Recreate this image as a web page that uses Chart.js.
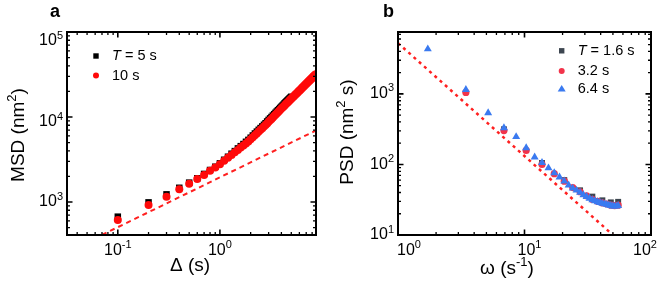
<!DOCTYPE html>
<html><head><meta charset="utf-8">
<script src="https://cdn.jsdelivr.net/npm/chart.js@4/dist/chart.umd.min.js"></script>
<style>
html,body{margin:0;padding:0;background:#fff;}
#wrap{position:relative;width:665px;height:283px;overflow:hidden;}
#ca{position:absolute;left:0;top:0;}
#cb{position:absolute;left:332px;top:0;}
</style></head><body>
<div id="wrap"><canvas id="ca" width="332" height="283"></canvas><canvas id="cb" width="333" height="283"></canvas></div>
<script>
// ---------------- Panel a data ----------------
const lagT5 = [0.1,0.2,0.3,0.4,0.5,0.6,0.7,0.8,0.9,1.0,1.1,1.2,1.3,1.4,1.5,1.6,1.7,1.8,1.9,2.0,2.1,2.2,2.3,2.4,2.5,2.6,2.7,2.8,2.9,3.0,3.1,3.2,3.3,3.4,3.5,3.6,3.7,3.8,3.9,4.0,4.1,4.2,4.3,4.4,4.5,4.6,4.7,4.8,4.9,5.0];
const msdT5 = [672,990,1230,1470,1690,1900,2140,2380,2600,2850,3140,3410,3700,3970,4270,4540,4810,5110,5380,5710,6060,6400,6730,7070,7410,7750,8100,8440,8860,9250,9630,10000,10400,10800,11200,11600,12000,12400,12800,13200,13600,14000,14500,14900,15300,15700,16100,16500,16900,17300];
const lagT10 = [0.1,0.2,0.3,0.4,0.5,0.6,0.7,0.8,0.9,1.0,1.1,1.2,1.3,1.4,1.5,1.6,1.7,1.8,1.9,2.0,2.1,2.2,2.3,2.4,2.5,2.6,2.7,2.8,2.9,3.0,3.1,3.2,3.3,3.4,3.5,3.6,3.7,3.8,3.9,4.0,4.1,4.2,4.3,4.4,4.5,4.6,4.7,4.8,4.9,5.0,5.1,5.2,5.3,5.4,5.5,5.6,5.7,5.8,5.9,6.0,6.1,6.2,6.3,6.4,6.5,6.6,6.7,6.8,6.9,7.0,7.1,7.2,7.3,7.4,7.5,7.6,7.7,7.8,7.9,8.0,8.1,8.2,8.3,8.4,8.5,8.6,8.7];
const msdT10 = [614,922,1150,1410,1640,1860,2080,2330,2550,2780,3050,3310,3580,3840,4100,4370,4630,4890,5150,5460,5780,6090,6410,6740,7060,7380,7710,8040,8400,8770,9130,9500,9870,10250,10630,11010,11390,11780,12170,12560,12940,13320,13700,14080,14470,14850,15240,15630,16020,16410,16810,17200,17600,18000,18400,18810,19210,19610,20020,20430,20840,21250,21660,22070,22490,22900,23320,23740,24160,24580,25000,25420,25850,26270,26700,27130,27560,27990,28420,28850,29280,29720,30150,30590,31030,31470,31900];
const fitA_lag = [0.07, 8.7];
const fitA_msd = [410, 6930];
const lagTickExps = [-1, 0];
const msdTickExps = [3, 4, 5];

// ---------------- Panel b data ----------------
const omegaT16 = [6.88,13.75,20.63,27.5,34.38,41.25,48.13,55.0];
const psdT16 = [315,105,60,43,35,31,29,29.5];
const omegaT32 = [3.44,6.88,10.31,13.75,17.19,20.63,24.06,27.5,30.94,34.38,37.81,41.25,44.69,48.13,51.56,55.0];
const psdT32 = [1050,302,158,100,74,58,47,41,36,32,30,28.5,27.5,26.5,26,26.5];
const omegaT64 = [1.72,3.44,5.16,6.88,8.59,10.31,12.03,13.75,15.47,17.19,18.91,20.63,22.34,24.06,25.78,27.5,29.22,30.94,32.66,34.38,36.09,37.81,39.53,41.25,42.97,44.69,46.41,48.13,49.84,51.56,53.28,55.0];
const psdT64 = [4330,1150,538,330,247,172,127,106,89,76,66,58,51,46,43,40,37,35,33,31.5,30.5,29.5,28.8,28,27.5,27,26.5,26,25.7,25.5,25.5,26];
const fitB_omega = [1, 50];
const fitB_psd = [5250, 10];
const omegaTickExps = [0, 1, 2];
const psdTickExps = [1, 2, 3];

// ---------------- helpers ----------------
const FAM = '"Liberation Sans", Arial, Helvetica, sans-serif';
function pts(xs, ys){ return xs.map((x,i)=>({x:x, y:ys[i]})); }
function fnt(s, F){ const size = s.sup ? Math.round(F*0.66) : F; return (s.it?'italic ':'') + (s.b?'bold ':'') + size + 'px ' + FAM; }
function segW(ctx, segs, F){ let w=0; for(const s of segs){ ctx.font=fnt(s,F); w+=ctx.measureText(s.t).width; } return w; }
function drawSegs(ctx, segs, x, y, F, align){
  const w = segW(ctx, segs, F);
  let cx = align==='center' ? x-w/2 : (align==='right' ? x-w : x);
  ctx.textBaseline='middle'; ctx.textAlign='left';
  for(const s of segs){ ctx.font=fnt(s,F); ctx.fillText(s.t, cx, s.sup ? y-F*0.34 : y); cx += ctx.measureText(s.t).width; }
}
function drawRot(ctx, segs, x, y, F){ ctx.save(); ctx.translate(x,y); ctx.rotate(-Math.PI/2); drawSegs(ctx, segs, 0, 0, F, 'center'); ctx.restore(); }
function logTicks(min, max){
  const major=[], minor=[];
  for(let e=Math.floor(Math.log10(min)); e<=Math.ceil(Math.log10(max)); e++){
    for(let k=1;k<10;k++){ const v=k*Math.pow(10,e); if(v<min*0.9999||v>max*1.0001) continue; (k===1?major:minor).push(v); }
  }
  return {major, minor};
}
function drawFrame(chart, cfg){
  const ctx=chart.ctx, a=chart.chartArea, xs=chart.scales.x, ys=chart.scales.y;
  ctx.save();
  ctx.strokeStyle='#000'; ctx.fillStyle='#000';
  const xt=logTicks(xs.min, xs.max), yt=logTicks(ys.min, ys.max);
  const tick=(v,len,lw,isX)=>{
    ctx.lineWidth=lw; ctx.beginPath();
    if(isX){ const p=xs.getPixelForValue(v); ctx.moveTo(p,a.bottom); ctx.lineTo(p,a.bottom-len); ctx.moveTo(p,a.top); ctx.lineTo(p,a.top+len); }
    else { const p=ys.getPixelForValue(v); ctx.moveTo(a.left,p); ctx.lineTo(a.left+len,p); ctx.moveTo(a.right,p); ctx.lineTo(a.right-len,p); }
    ctx.stroke();
  };
  xt.minor.forEach(v=>tick(v,3,1.3,true)); xt.major.forEach(v=>tick(v,5.5,1.6,true));
  yt.minor.forEach(v=>tick(v,3,1.3,false)); yt.major.forEach(v=>tick(v,5.5,1.6,false));
  ctx.lineWidth=2; ctx.strokeRect(a.left, a.top, a.right-a.left, a.bottom-a.top);
  // tick labels
  const F=16;
  cfg.xExps.forEach((e,i)=>{ const p=xs.getPixelForValue(Math.pow(10,e)) + (cfg.xShift?cfg.xShift[i]:0);
    drawSegs(ctx,[{t:'10'},{t:String(e),sup:true}], p, a.bottom+15.5, F, 'center'); });
  cfg.yExps.forEach((e,i)=>{ const p=ys.getPixelForValue(Math.pow(10,e)) + (cfg.yShift?cfg.yShift[i]:0);
    drawSegs(ctx,[{t:'10'},{t:String(e),sup:true}], a.left-4, p, F, 'right'); });
  // axis titles
  drawRot(ctx, cfg.yTitle, cfg.yTitlePos[0], cfg.yTitlePos[1], 19);
  drawSegs(ctx, cfg.xTitle, cfg.xTitlePos[0], cfg.xTitlePos[1], 19, 'center');
  // panel letter
  ctx.font='bold 18px '+FAM; ctx.textBaseline='alphabetic'; ctx.textAlign='left';
  ctx.fillText(cfg.letter, cfg.letterPos[0], cfg.letterPos[1]);
  // legend
  cfg.legend.forEach(it=>{
    ctx.fillStyle=it.color;
    const [mx,my]=it.pos;
    ctx.beginPath();
    if(it.shape==='rect'){ ctx.rect(mx-2.7,my-2.7,5.4,5.4); }
    else if(it.shape==='circle'){ ctx.arc(mx,my,3,0,Math.PI*2); }
    else { ctx.moveTo(mx,my-3.6); ctx.lineTo(mx+4,my+3); ctx.lineTo(mx-4,my+3); ctx.closePath(); }
    ctx.fill();
    ctx.fillStyle='#000';
    drawSegs(ctx, it.text, mx+16, my, 14.5, 'left');
  });
  ctx.restore();
}
const framePlugin = { id:'frame', afterDraw(chart){ drawFrame(chart, chart.options.plugins.frame); } };

function baseOpts(pad, x, y, frameCfg){
  return {
    responsive:false, animation:false, events:[],
    layout:{padding:pad},
    plugins:{legend:{display:false}, tooltip:{enabled:false}, frame:frameCfg},
    scales:{
      x:{type:'logarithmic', min:x[0], max:x[1], display:false},
      y:{type:'logarithmic', min:y[0], max:y[1], display:false}
    }
  };
}

// ---------------- Chart a ----------------
new Chart(document.getElementById('ca'), {
  type:'scatter',
  data:{datasets:[
    {label:'fit', data:pts(fitA_lag, fitA_msd), showLine:true, borderColor:'#ff2020', borderWidth:2, borderDash:[5,4], pointRadius:0, clip:0, order:0},
    {label:'10 s', data:pts(lagT10, msdT10), pointStyle:'circle', pointRadius:4, backgroundColor:'#ff0a0a', borderWidth:0, clip:0, order:1},
    {label:'T = 5 s', data:pts(lagT5, msdT5), pointStyle:'rect', pointRadius:4.6, backgroundColor:'#000', borderWidth:0, clip:0, order:2}
  ]},
  options: baseOpts({left:67,right:16,top:32,bottom:48}, [0.0318, 8.73], [409, 100000], {
    xExps: lagTickExps, yExps: msdTickExps, yShift:[0,5,9],
    yTitle:[{t:'MSD (nm'},{t:'2',sup:true},{t:')'}], yTitlePos:[19,135],
    xTitle:[{t:'\u0394 (s)'}], xTitlePos:[190,266],
    letter:'a', letterPos:[50,17],
    legend:[
      {shape:'rect', color:'#000', pos:[96,56], text:[{t:'T',it:true},{t:' = 5 s'}]},
      {shape:'circle', color:'#ff0a0a', pos:[96,75.5], text:[{t:'10 s'}]}
    ]
  })
  ,plugins:[framePlugin]
});

// ---------------- Chart b ----------------
new Chart(document.getElementById('cb'), {
  type:'scatter',
  data:{datasets:[
    {label:'fit', data:pts(fitB_omega, fitB_psd), showLine:true, borderColor:'#ff2020', borderWidth:2.5, borderDash:[3,4], pointRadius:0, clip:0, order:3},
    {label:'6.4 s', data:pts(omegaT64, psdT64), pointStyle:'triangle', pointRadius:4.6, backgroundColor:'#3a7af0', borderWidth:0, clip:0, order:0},
    {label:'3.2 s', data:pts(omegaT32, psdT32), pointStyle:'circle', pointRadius:3.6, backgroundColor:'#f2334a', borderWidth:0, clip:0, order:1},
    {label:'T = 1.6 s', data:pts(omegaT16, psdT16), pointStyle:'rect', pointRadius:4.2, backgroundColor:'#3d4650', borderWidth:0, clip:0, order:2}
  ]},
  options: baseOpts({left:66,right:14,top:32,bottom:48}, [1, 100], [10, 7540], {
    xExps: omegaTickExps, yExps: psdTickExps, xShift:[11,5,-6],
    yTitle:[{t:'PSD (nm'},{t:'2',sup:true},{t:' s)'}], yTitlePos:[16,132],
    xTitle:[{t:'\u03c9 (s'},{t:'-1',sup:true},{t:')'}], xTitlePos:[175,269],
    letter:'b', letterPos:[51,17],
    legend:[
      {shape:'rect', color:'#3d4650', pos:[229.7,50.8], text:[{t:'T',it:true},{t:' = 1.6 s'}]},
      {shape:'circle', color:'#f2334a', pos:[229.7,71], text:[{t:'3.2 s'}]},
      {shape:'tri', color:'#3a7af0', pos:[229.7,88.5], text:[{t:'6.4 s'}]}
    ]
  })
  ,plugins:[framePlugin]
});
</script>
</body></html>
